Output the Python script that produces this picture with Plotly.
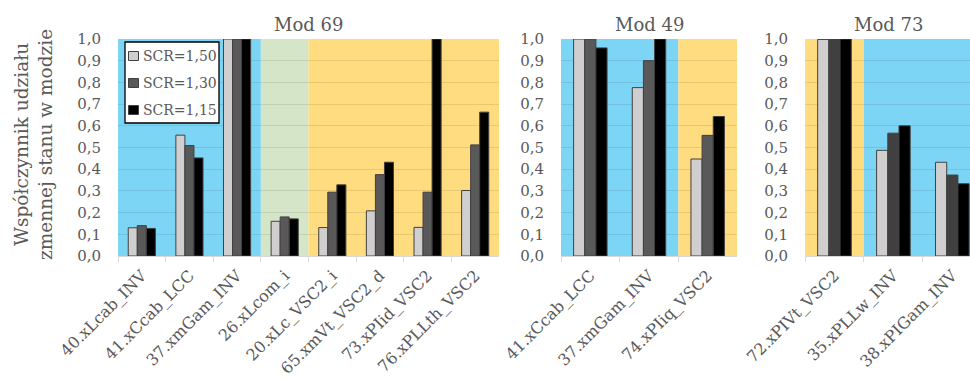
import plotly.graph_objects as go

# ---------------- data ----------------
series_names = ["SCR=1,50", "SCR=1,30", "SCR=1,15"]

cats_69 = ["40.xLcab_INV", "41.xCcab_LCC", "37.xmGam_INV", "26.xLcom_i",
           "20.xLc_VSC2_i", "65.xmVt_VSC2_d", "73.xPIid_VSC2", "76.xPLLth_VSC2"]
vals_69_150 = [0.13, 0.557, 1.0, 0.16, 0.131, 0.208, 0.132, 0.302]
vals_69_130 = [0.14, 0.509, 1.0, 0.18, 0.294, 0.375, 0.294, 0.512]
vals_69_115 = [0.127, 0.452, 1.0, 0.171, 0.328, 0.432, 1.0, 0.663]

cats_49 = ["41.xCcab_LCC", "37.xmGam_INV", "74.xPIiq_VSC2"]
vals_49_150 = [1.0, 0.776, 0.447]
vals_49_130 = [1.0, 0.90, 0.556]
vals_49_115 = [0.959, 1.0, 0.643]

cats_73 = ["72.xPIVt_VSC2", "35.xPLLw_INV", "38.xPIGam_INV"]
vals_73_150 = [0.998, 0.487, 0.432]
vals_73_130 = [1.0, 0.566, 0.373]
vals_73_115 = [1.0, 0.60, 0.333]

titles = ["Mod 69", "Mod 49", "Mod 73"]
y_title = "Współczynnik udziału<br>zmennej stanu w modzie"

# ---------------- style ----------------
FONT = "DejaVu Serif"
TXT = "#595959"
BLUE = "#7DD5F6"
GREEN = "#D5E6C8"
YELLOW = "#FFDC7F"
W, H = 970, 379

def px2x(p):
    return p / W

def px2y(p):
    return 1 - p / H

ydom = [px2y(256), px2y(39)]
xdoms = [[px2x(118), px2x(499)], [px2x(561), px2x(737)], [px2x(805), px2x(970)]]

series_cols = [["#D0CECE", "#595959", "#000000"],
               ["#D0CECE", "#595959", "#000000"],
               ["#D0CECE", "#404040", "#000000"]]
panels = [
    (cats_69, [vals_69_150, vals_69_130, vals_69_115]),
    (cats_49, [vals_49_150, vals_49_130, vals_49_115]),
    (cats_73, [vals_73_150, vals_73_130, vals_73_115]),
]

fig = go.Figure()
for i, (cats, vals) in enumerate(panels):
    ax = "" if i == 0 else str(i + 1)
    for j in range(3):
        fig.add_trace(go.Bar(
            x=cats, y=vals[j], name=series_names[j],
            marker=dict(color=series_cols[i][j], line=dict(color="#404040", width=1)),
            xaxis="x" + ax, yaxis="y" + ax,
            legendgroup=series_names[j], showlegend=False,
        ))

# background bands (category index ranges)
bands = [
    ("x", [(-0.5, 2.5, BLUE), (2.5, 3.5, GREEN), (3.5, 7.5, YELLOW)]),
    ("x2", [(-0.5, 1.5, BLUE), (1.5, 2.5, YELLOW)]),
    ("x3", [(-0.5, 0.5, YELLOW), (0.5, 2.3, BLUE)]),
]
shapes = []
for xr, bl in bands:
    yr = "y" + xr[1:] + " domain" if len(xr) > 1 else "y domain"
    for x0, x1, c in bl:
        shapes.append(dict(type="rect", xref=xr, yref=yr, x0=x0, x1=x1, y0=0, y1=1,
                           fillcolor=c, line=dict(width=0), layer="below"))

# legend box (drawn in paper space)
annotations = []
shapes.append(dict(type="rect", xref="paper", yref="paper",
                   x0=px2x(125), x1=px2x(219), y0=px2y(123), y1=px2y(42),
                   fillcolor="white", line=dict(color="black", width=1.3), layer="above"))
for j, yc in enumerate([56, 83, 110]):
    shapes.append(dict(type="rect", xref="paper", yref="paper",
                       x0=px2x(128.5), x1=px2x(138.5), y0=px2y(yc + 4.5), y1=px2y(yc - 4.5),
                       fillcolor=series_cols[0][j], line=dict(color="#404040", width=1),
                       layer="above"))
    annotations.append(dict(text=series_names[j], xref="paper", yref="paper",
                            x=px2x(141), y=px2y(yc), xanchor="left", yanchor="middle",
                            showarrow=False, font=dict(size=14, family=FONT, color=TXT)))

layout = dict(
    width=W, height=H,
    margin=dict(l=0, r=0, t=0, b=0, autoexpand=False),
    paper_bgcolor="white", plot_bgcolor="white",
    separators=",.",
    barmode="group", bargap=0.43, bargroupgap=0,
    font=dict(family=FONT, color=TXT, size=15),
    shapes=shapes,
    showlegend=False,
)

xranges = [[-0.5, 7.5], [-0.5, 2.5], [-0.5, 2.3]]
for i in range(3):
    ax = "" if i == 0 else str(i + 1)
    layout["xaxis" + ax] = dict(
        domain=xdoms[i], anchor="y" + ax, type="category", range=xranges[i],
        automargin=False,
        showline=True, linecolor="#D9D9D9", linewidth=1,
        ticks="outside", tickson="boundaries", ticklen=5, tickcolor="#D9D9D9",
        tickangle=-45, tickfont=dict(size=16, family=FONT, color=TXT),
        ticklabelstandoff=3,
        showgrid=False, fixedrange=True,
    )
    layout["yaxis" + ax] = dict(
        domain=ydom, anchor="x" + ax, range=[0, 1], automargin=False,
        tickvals=[k / 10 for k in range(11)], tickformat=".1f",
        showgrid=True, gridcolor="rgba(0,0,0,0.09)", gridwidth=1,
        zeroline=False, showline=False, ticks="",
        tickfont=dict(size=15, family=FONT, color=TXT), ticklabelstandoff=16,
        fixedrange=True,
    )

title_centers = [308, 649, 888]
for t, cx in zip(titles, title_centers):
    annotations.append(dict(text=t, xref="paper", yref="paper", x=px2x(cx), y=px2y(24),
                            showarrow=False, font=dict(size=18, family=FONT, color=TXT),
                            xanchor="center", yanchor="middle"))
annotations.append(dict(text=y_title, xref="paper", yref="paper", x=px2x(34), y=px2y(145),
                        showarrow=False, textangle=-90,
                        font=dict(size=18.5, family=FONT, color=TXT),
                        xanchor="center", yanchor="middle"))
layout["annotations"] = annotations

fig.update_layout(**layout)
fig.write_html("out.html",
               config={"displayModeBar": False},
               post_script="document.body.style.margin='0';document.body.style.overflow='hidden';")
